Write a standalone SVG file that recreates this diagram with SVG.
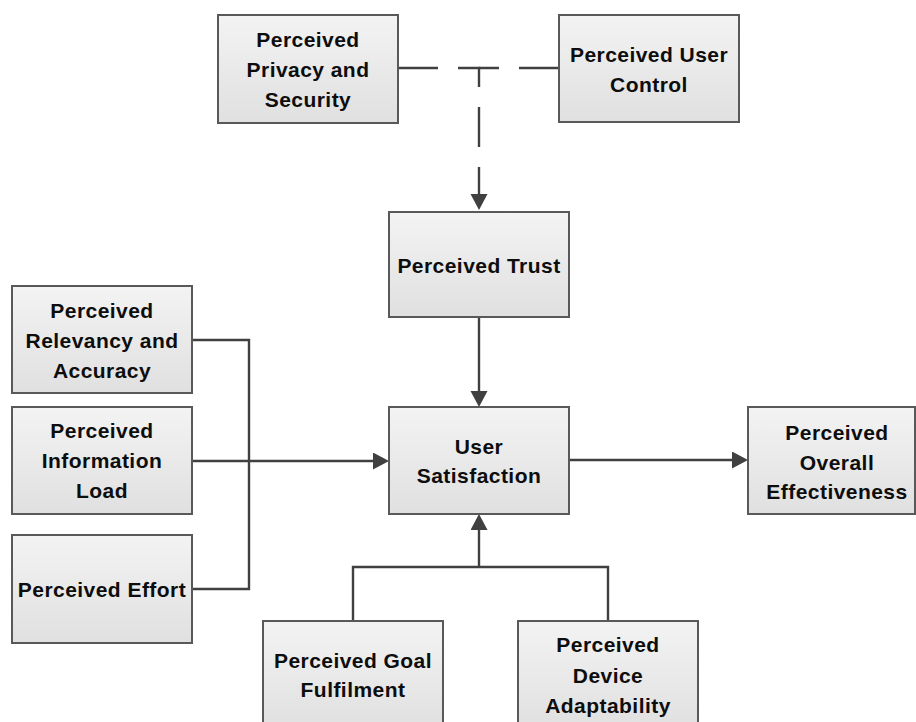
<svg xmlns="http://www.w3.org/2000/svg" width="916" height="722" viewBox="0 0 916 722">
<defs>
<linearGradient id="g" x1="0" y1="0" x2="0" y2="1">
<stop offset="0" stop-color="#f3f3f3"/>
<stop offset="1" stop-color="#e0e0e0"/>
</linearGradient>
<marker id="ah" markerUnits="userSpaceOnUse" markerWidth="17" markerHeight="18" refX="8" refY="8.5" orient="auto">
<path d="M0,0 L16,8.5 L0,17 z" fill="#404040"/>
</marker>
</defs>
<style>
.box{fill:url(#g);stroke:#595959;stroke-width:2}
.t{font-family:"Liberation Sans",Arial,sans-serif;font-weight:bold;font-size:21px;letter-spacing:0.45px;fill:#0d0d0d;text-anchor:middle}
.c{fill:none;stroke:#404040;stroke-width:2.4}
.d{stroke-dasharray:40 20}
</style>
<g id="connectors">
<path class="c d" d="M398,68 H479 V202" marker-end="url(#ah)"/>
<path class="c d" d="M559,68 H479"/>
<path class="c" d="M479,317 V399" marker-end="url(#ah)"/>
<path class="c" d="M192,340 H249 V589 H192"/>
<path class="c" d="M192,461 H381" marker-end="url(#ah)"/>
<path class="c" d="M569,460 H740" marker-end="url(#ah)"/>
<path class="c" d="M353,621 V567 H608 V621"/>
<path class="c" d="M479,567 V522" marker-end="url(#ah)"/>
</g>
<g id="privacy">
<rect class="box" x="218" y="15" width="180" height="108"/>
<text class="t" x="308" y="47">Perceived</text>
<text class="t" x="308" y="77">Privacy and</text>
<text class="t" x="308" y="107">Security</text>
</g>
<g id="control">
<rect class="box" x="559" y="15" width="180" height="107"/>
<text class="t" x="649" y="62">Perceived User</text>
<text class="t" x="649" y="92">Control</text>
</g>
<g id="trust">
<rect class="box" x="389" y="212" width="180" height="105"/>
<text class="t" x="479" y="273">Perceived Trust</text>
</g>
<g id="relevancy">
<rect class="box" x="12" y="286" width="180" height="107"/>
<text class="t" x="102" y="318">Perceived</text>
<text class="t" x="102" y="348">Relevancy and</text>
<text class="t" x="102" y="378">Accuracy</text>
</g>
<g id="infoload">
<rect class="box" x="12" y="407" width="180" height="107"/>
<text class="t" x="102" y="438">Perceived</text>
<text class="t" x="102" y="468">Information</text>
<text class="t" x="102" y="498">Load</text>
</g>
<g id="effort">
<rect class="box" x="12" y="535" width="180" height="108"/>
<text class="t" x="102" y="597">Perceived Effort</text>
</g>
<g id="satisfaction">
<rect class="box" x="389" y="407" width="180" height="107"/>
<text class="t" x="479" y="454">User</text>
<text class="t" x="479" y="483">Satisfaction</text>
</g>
<g id="overall">
<rect class="box" x="748" y="407" width="167" height="107"/>
<text class="t" x="837" y="440">Perceived</text>
<text class="t" x="837" y="470">Overall</text>
<text class="t" x="837" y="499">Effectiveness</text>
</g>
<g id="goal">
<rect class="box" x="263" y="621" width="180" height="108"/>
<text class="t" x="353" y="668">Perceived Goal</text>
<text class="t" x="353" y="697">Fulfilment</text>
</g>
<g id="device">
<rect class="box" x="518" y="621" width="180" height="108"/>
<text class="t" x="608" y="652">Perceived</text>
<text class="t" x="608" y="683">Device</text>
<text class="t" x="608" y="713">Adaptability</text>
</g>
</svg>
